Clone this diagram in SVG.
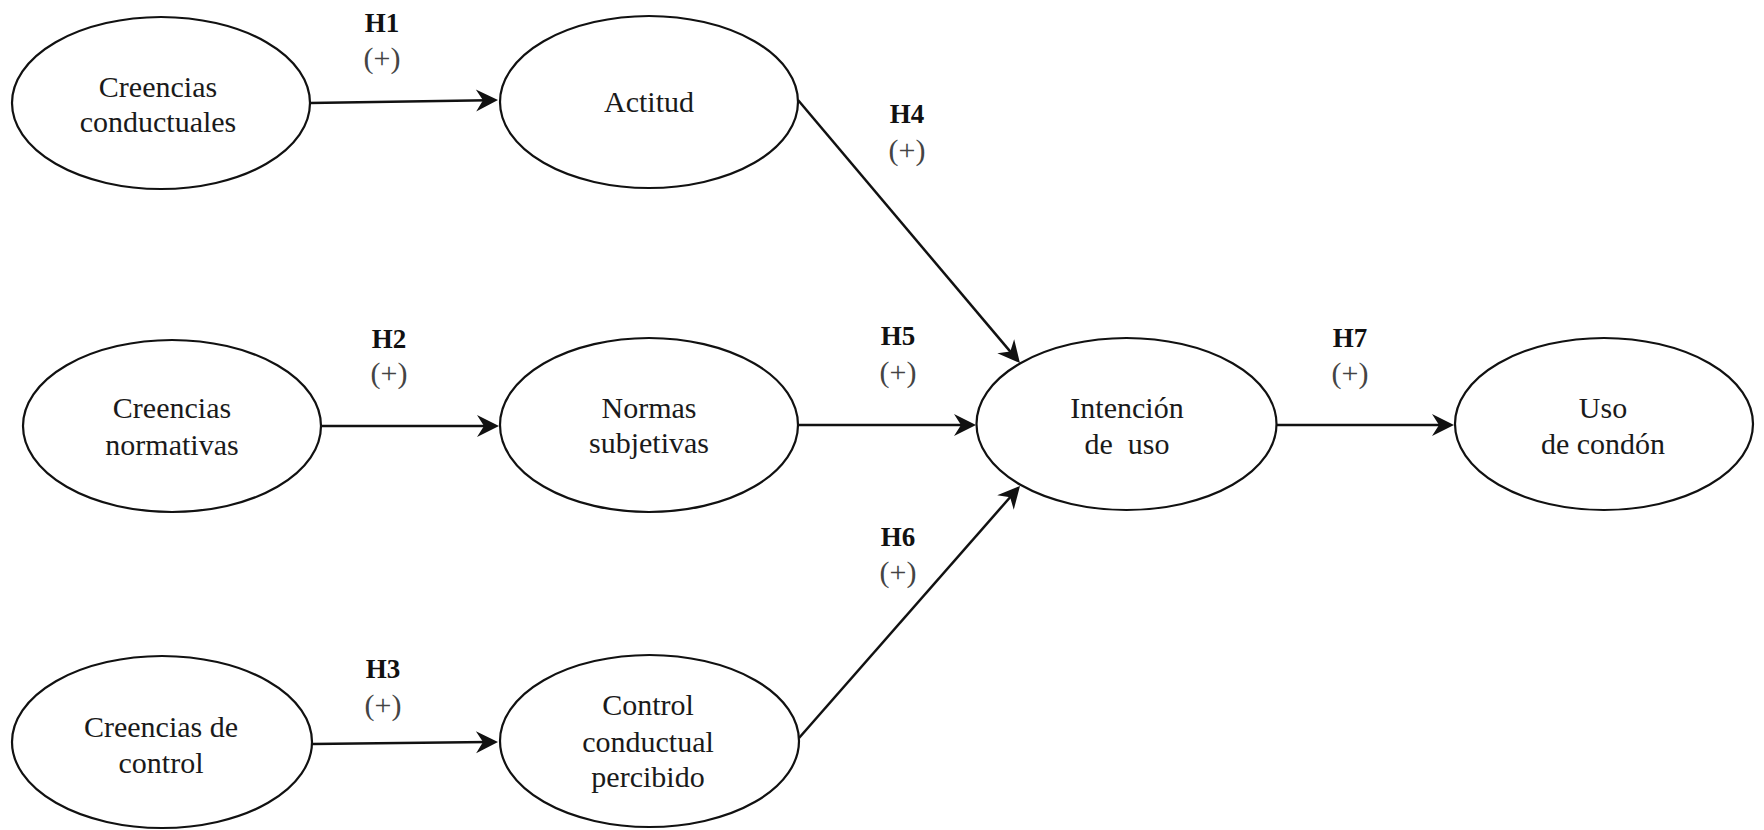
<svg xmlns="http://www.w3.org/2000/svg" width="1764" height="830" viewBox="0 0 1764 830">
<style>
.node ellipse{fill:#fff;stroke:#111;stroke-width:2.2}
.node text{font-family:"Liberation Serif","Times New Roman",serif;font-size:30px;fill:#1a1a1a;text-anchor:middle}
.conn line{stroke:#111;stroke-width:2.5;fill:none}
.lbl{font-family:"Liberation Serif","Times New Roman",serif;text-anchor:middle}
.h{font-size:27px;font-weight:bold;fill:#111}
.s{font-size:30px;fill:#444}
</style>
<defs>
<marker id="arr" viewBox="-14 -12 26 24" refX="0" refY="0" markerWidth="26" markerHeight="24" markerUnits="userSpaceOnUse" orient="auto">
<path d="M10,0 L-12,-11 L-5,0 L-12,11 Z" fill="#111"/>
</marker>
</defs>
<rect width="1764" height="830" fill="#fff"/>
<g id="connectors" class="conn">
<line x1="310" y1="103" x2="488" y2="100.2" marker-end="url(#arr)"/>
<line x1="321" y1="426" x2="489" y2="426" marker-end="url(#arr)"/>
<line x1="312" y1="744" x2="488" y2="742" marker-end="url(#arr)"/>
<line x1="798" y1="100" x2="1013.5" y2="355.4" marker-end="url(#arr)"/>
<line x1="798" y1="425" x2="966" y2="425" marker-end="url(#arr)"/>
<line x1="799" y1="738" x2="1013.4" y2="493.5" marker-end="url(#arr)"/>
<line x1="1276" y1="425" x2="1444" y2="425" marker-end="url(#arr)"/>
</g>
<g id="labels" class="lbl">
<text class="h" x="382" y="32">H1</text><text class="s" x="382" y="68">(+)</text>
<text class="h" x="389" y="348">H2</text><text class="s" x="389" y="383">(+)</text>
<text class="h" x="383" y="678">H3</text><text class="s" x="383" y="715">(+)</text>
<text class="h" x="907" y="123">H4</text><text class="s" x="907" y="160">(+)</text>
<text class="h" x="898" y="345">H5</text><text class="s" x="898" y="382">(+)</text>
<text class="h" x="898" y="546">H6</text><text class="s" x="898" y="582">(+)</text>
<text class="h" x="1350" y="347">H7</text><text class="s" x="1350" y="383">(+)</text>
</g>
<g id="creencias-conductuales" class="node">
<ellipse cx="161" cy="103" rx="149" ry="86"/>
<text x="158" y="97">Creencias</text><text x="158" y="132">conductuales</text>
</g>
<g id="actitud" class="node">
<ellipse cx="649" cy="102" rx="149" ry="86"/>
<text x="649" y="112">Actitud</text>
</g>
<g id="creencias-normativas" class="node">
<ellipse cx="172" cy="426" rx="149" ry="86"/>
<text x="172" y="418">Creencias</text><text x="172" y="455">normativas</text>
</g>
<g id="normas-subjetivas" class="node">
<ellipse cx="649" cy="425" rx="149" ry="87"/>
<text x="649" y="418">Normas</text><text x="649" y="453">subjetivas</text>
</g>
<g id="creencias-de-control" class="node">
<ellipse cx="162" cy="742" rx="150" ry="86"/>
<text x="161" y="737">Creencias de</text><text x="161" y="773">control</text>
</g>
<g id="control-conductual-percibido" class="node">
<ellipse cx="649.5" cy="741" rx="149.5" ry="86"/>
<text x="648" y="715">Control</text><text x="648" y="752">conductual</text><text x="648" y="787">percibido</text>
</g>
<g id="intencion-de-uso" class="node">
<ellipse cx="1126.5" cy="424" rx="150" ry="86"/>
<text x="1127" y="418">Intención</text><text x="1127" y="454" xml:space="preserve">de  uso</text>
</g>
<g id="uso-de-condon" class="node">
<ellipse cx="1604" cy="424" rx="149" ry="86"/>
<text x="1603" y="418">Uso</text><text x="1603" y="454">de condón</text>
</g>
</svg>
